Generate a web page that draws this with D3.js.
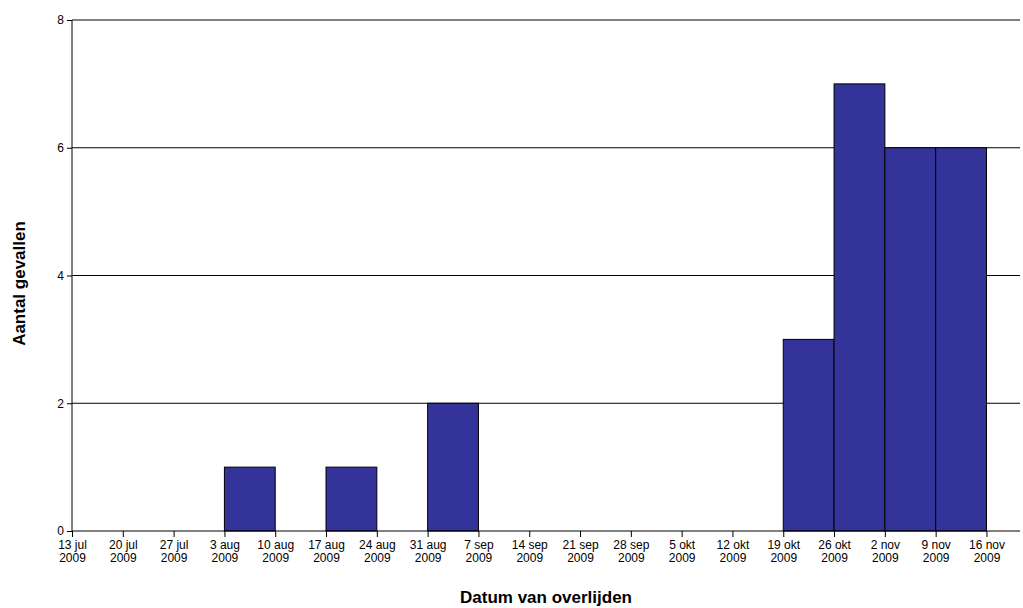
<!DOCTYPE html>
<html lang="en">
<head>
<meta charset="UTF-8">
<title>Aantal gevallen</title>
<script src="https://cdn.jsdelivr.net/npm/d3@7"></script>
<style>
  body { margin: 0; background: #fff; font-family: "Liberation Sans", Arial, sans-serif; }
</style>
</head>
<body>
<script>
    const tickLabels = ["13 jul", "20 jul", "27 jul", "3 aug", "10 aug", "17 aug", "24 aug", "31 aug", "7 sep", "14 sep",
        "21 sep", "28 sep", "5 okt", "12 okt", "19 okt", "26 okt", "2 nov", "9 nov", "16 nov"]
    // week index where each bar starts, and its count
    const barWeeks = [3, 5, 7, 14, 15, 16, 17]
    const barCounts = [1, 1, 2, 3, 7, 6, 6]
    const yTicks = [0, 2, 4, 6, 8]

    const width = 1023, height = 608
    const svg = d3.select("body").append("svg").attr("width", width).attr("height", height)

    const x = d3.scaleLinear().domain([0, 18.66]).range([72, 1020])
    const y = d3.scaleLinear().domain([0, 8]).range([531, 20])

    // gridlines
    svg.append("g").selectAll("line").data(yTicks.slice(1)).enter().append("line")
        .attr("x1", x(0)).attr("x2", x(18.66))
        .attr("y1", d => y(d)).attr("y2", d => y(d))
        .attr("stroke", "#000").attr("stroke-width", 1)

    svg.append("g").selectAll("rect").data(barWeeks).enter().append("rect")
        .attr("x", d => x(d))
        .attr("width", x(1) - x(0))
        .attr("y", (d, i) => y(barCounts[i]))
        .attr("height", (d, i) => y(0) - y(barCounts[i]))
        .attr("fill", "#333399").attr("stroke", "#000").attr("stroke-width", 1)

    const yAxis = d3.axisLeft(y).tickValues(yTicks).tickSize(5).tickPadding(3)
    svg.append("g").attr("transform", `translate(${x(0)},0)`).call(yAxis)
        .call(g => g.select(".domain").attr("d", `M0,${y(8)}V${y(0)}`))
        .attr("font-size", 12).attr("font-family", "Liberation Sans, Arial, sans-serif")

    const xAxis = d3.axisBottom(x).tickValues(d3.range(tickLabels.length)).tickFormat("").tickSize(6)
    const xg = svg.append("g").attr("transform", `translate(0,${y(0)})`).call(xAxis)
    xg.select(".domain").attr("d", `M${x(0)},0H${x(18.66)}`)
    xg.selectAll(".tick").append("text")
        .attr("fill", "#000").attr("font-size", 12).attr("text-anchor", "middle")
        .attr("font-family", "Liberation Sans, Arial, sans-serif")
        .each(function (d) {
            const t = d3.select(this)
            t.append("tspan").attr("x", 0).attr("y", 18).text(tickLabels[d])
            t.append("tspan").attr("x", 0).attr("y", 31).text("2009")
        })

    svg.append("text").attr("x", (x(0) + x(18.66)) / 2).attr("y", 603)
        .attr("text-anchor", "middle").attr("font-size", 17).attr("font-weight", "bold")
        .text("Datum van overlijden")
    svg.append("text").attr("transform", `translate(25,${(y(0) + y(8)) / 2 + 8}) rotate(-90)`)
        .attr("text-anchor", "middle").attr("font-size", 17).attr("font-weight", "bold")
        .text("Aantal gevallen")
</script>
</body>
</html>
